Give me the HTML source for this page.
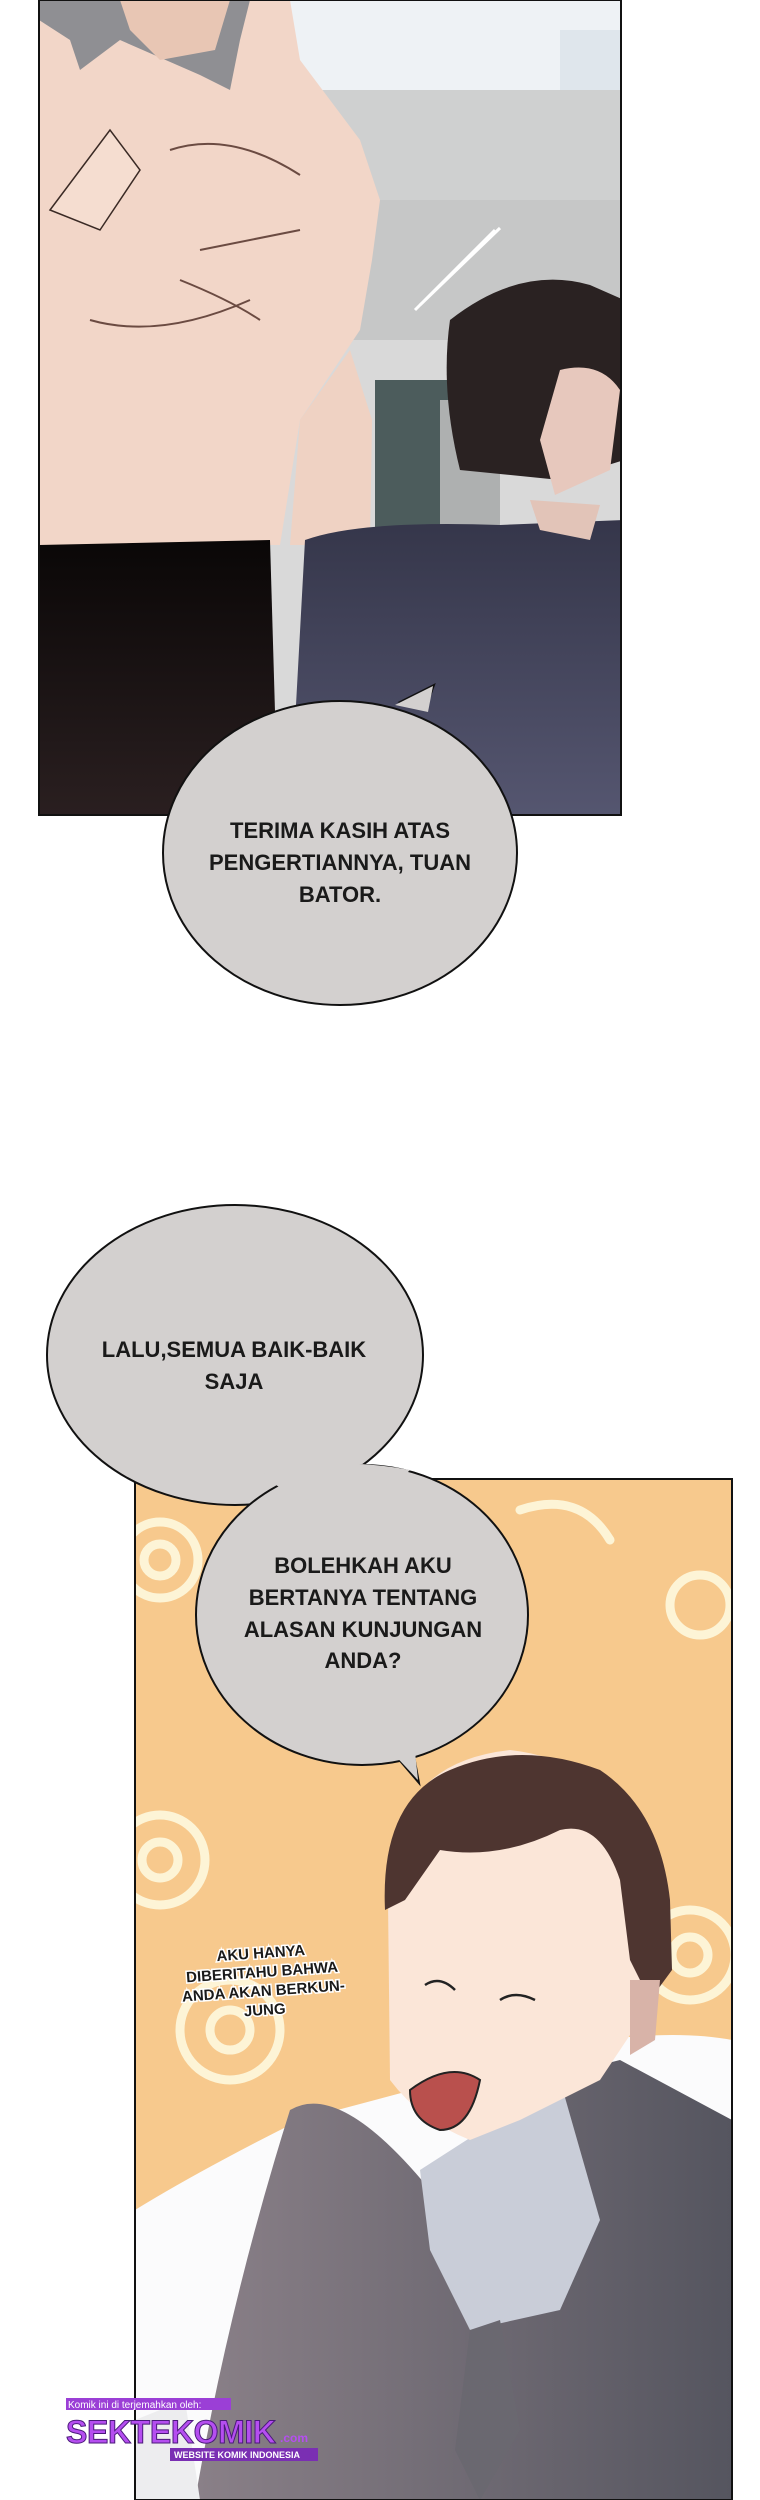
<!DOCTYPE html>
<html><head><meta charset="utf-8"><style>
html,body{margin:0;padding:0;background:#fff;}
svg{display:block;}
text{font-family:"Liberation Sans",sans-serif;font-weight:bold;fill:#1a1a1a;}
</style></head><body>
<svg width="760" height="2500" viewBox="0 0 760 2500" xmlns="http://www.w3.org/2000/svg">
<defs>
<linearGradient id="pants" x1="0" y1="0" x2="0" y2="1"><stop offset="0" stop-color="#0a0707"/><stop offset="1" stop-color="#2a1f20"/></linearGradient>
<linearGradient id="suit1" x1="0" y1="0" x2="0" y2="1"><stop offset="0" stop-color="#35364a"/><stop offset="1" stop-color="#555670"/></linearGradient>
<linearGradient id="suit2" x1="0" y1="0" x2="1" y2="0"><stop offset="0" stop-color="#8a8088"/><stop offset="1" stop-color="#55555f"/></linearGradient>
<clipPath id="p1"><rect x="39" y="0" width="582" height="815"/></clipPath>
<clipPath id="p2"><rect x="135" y="1479" width="597" height="1021"/></clipPath>
</defs>

<!-- PANEL 1 -->
<g clip-path="url(#p1)">
<rect x="39" y="0" width="582" height="815" fill="#d9d9d9"/>
<rect x="290" y="0" width="334" height="90" fill="#eef2f5"/>
<rect x="560" y="30" width="64" height="140" fill="#dfe6ec"/>
<rect x="290" y="90" width="334" height="120" fill="#cfd0d0"/>
<rect x="290" y="200" width="334" height="140" fill="#c6c7c7"/>
<rect x="375" y="380" width="90" height="150" fill="#4c5c5c"/>
<rect x="440" y="400" width="60" height="130" fill="#aeb0b0"/>
<path d="M39 0 L290 0 L300 60 L360 140 L380 200 L372 260 L360 330 L300 420 L280 545 L39 545 Z" fill="#f2d6c8"/>
<path d="M290 545 L300 420 L350 350 L372 420 L370 545 Z" fill="#efd2c3"/>
<path d="M39 0 L250 0 L240 40 L230 90 L200 75 L120 40 L80 70 L70 40 L39 20 Z" fill="#8f8f93"/>
<path d="M120 0 L230 0 L215 50 L160 60 L130 30 Z" fill="#e8c6b4"/>
<path d="M170 150 Q230 130 300 175 M200 250 Q250 240 300 230 M180 280 Q230 300 260 320 M90 320 Q160 340 250 300" stroke="#6b4b42" stroke-width="2" fill="none"/>
<path d="M50 210 L110 130 L140 170 L100 230 Z" fill="#f5ddd0" stroke="#3a2a25" stroke-width="1.5"/>
<path d="M39 545 L270 540 L278 815 L39 815 Z" fill="url(#pants)"/>
<path d="M305 540 Q360 520 500 525 L624 520 L624 815 L290 815 Z" fill="url(#suit1)"/>
<path d="M450 320 Q520 265 590 285 L624 300 L624 460 L560 480 L460 470 Q440 390 450 320 Z" fill="#2a2222"/>
<path d="M560 370 Q600 360 620 390 L610 470 L555 495 L540 440 Z" fill="#e7c8bd"/>
<path d="M530 500 L600 505 L590 540 L540 530 Z" fill="#e2c4b8"/>
<path d="M415 310 L495 230 M420 305 L500 228" stroke="#fff" stroke-width="3"/>
</g>
<rect x="39" y="0" width="582" height="815" fill="none" stroke="#111" stroke-width="2"/>

<!-- Bubble 1 -->
<path d="M400 702 L434 685 L425 710 Z" fill="#d3d0cf" stroke="#111" stroke-width="2"/>
<ellipse cx="340" cy="853" rx="177" ry="152" fill="#d3d0cf" stroke="#111" stroke-width="2"/>
<path d="M395 705 L433 686 L428 712" fill="#d3d0cf"/>
<text x="340" y="838" font-size="22" text-anchor="middle">TERIMA KASIH ATAS</text>
<text x="340" y="870" font-size="22" text-anchor="middle">PENGERTIANNYA, TUAN</text>
<text x="340" y="902" font-size="22" text-anchor="middle">BATOR.</text>

<!-- PANEL 2 -->
<g clip-path="url(#p2)">
<rect x="135" y="1479" width="597" height="1021" fill="#f7c98d"/>
<g fill="none" stroke="#fdf4d6" stroke-width="9" stroke-linecap="round">
<circle cx="160" cy="1560" r="38"/><circle cx="160" cy="1560" r="16"/>
<circle cx="160" cy="1860" r="45"/><circle cx="160" cy="1860" r="18"/>
<circle cx="700" cy="1605" r="30"/>
<circle cx="690" cy="1955" r="45"/><circle cx="690" cy="1955" r="18"/>
<circle cx="230" cy="2030" r="50"/><circle cx="230" cy="2030" r="20"/>
<path d="M250 1720 Q300 1760 340 1740"/><path d="M520 1510 Q580 1490 610 1540"/>
</g>
<path d="M600 2040 Q680 2030 732 2040 L732 2500 L135 2500 L135 2210 Q200 2170 300 2120 Z" fill="#fbfbfc"/>
<path d="M290 2110 Q340 2080 430 2190 L540 2080 L620 2060 L732 2120 L732 2500 L195 2500 Q230 2300 290 2110 Z" fill="url(#suit2)"/>
<path d="M420 2170 L560 2080 L600 2220 L560 2310 L470 2330 L430 2250 Z" fill="#c9cdd8"/>
<path d="M470 2330 L500 2320 L520 2430 L480 2500 L455 2450 Z" fill="#6a6870"/>
<path d="M135 2420 L185 2400 L200 2500 L135 2500 Z" fill="#ededef"/>
<path d="M400 1830 Q420 1760 510 1750 Q600 1760 650 1840 L670 1960 L640 2020 L600 2080 L520 2120 L470 2140 Q420 2120 390 2080 L388 1900 Z" fill="#fbe6d8"/>
<path d="M385 1910 Q380 1800 450 1770 Q520 1740 600 1770 Q660 1810 670 1900 L672 1970 L650 2000 L630 1960 L620 1880 Q600 1820 560 1830 Q500 1860 440 1850 L405 1900 Z" fill="#4e3530"/>
<path d="M630 1980 L660 1980 L655 2040 L630 2055 Z" fill="#d8b3a8"/>
<path d="M410 2090 Q450 2060 480 2080 Q470 2130 440 2130 Q410 2120 410 2090 Z" fill="#b9504d" stroke="#222" stroke-width="2"/>
<path d="M425 1985 Q440 1975 455 1990 M500 2000 Q515 1990 535 2000" stroke="#222" stroke-width="2.5" fill="none"/>
</g>
<rect x="135" y="1479" width="597" height="1021" fill="none" stroke="#111" stroke-width="2"/>

<!-- Bubble 2 -->
<ellipse cx="235" cy="1355" rx="188" ry="150" fill="#d3d0cf" stroke="#111" stroke-width="2"/>
<!-- Bubble 3 -->
<path d="M395 1755 L419 1783 L412 1745 Z" fill="#d3d0cf" stroke="#111" stroke-width="2"/>
<ellipse cx="362" cy="1615" rx="166" ry="150" fill="#d3d0cf" stroke="#111" stroke-width="2"/>
<path d="M390 1750 L418 1780 L414 1742 Z" fill="#d3d0cf"/>
<path d="M260 1475 Q330 1455 410 1470 Q380 1500 300 1500 Z" fill="#d3d0cf"/>
<text x="234" y="1357" font-size="22" text-anchor="middle">LALU,SEMUA BAIK-BAIK</text>
<text x="234" y="1389" font-size="22" text-anchor="middle">SAJA</text>
<text x="363" y="1573" font-size="22" text-anchor="middle">BOLEHKAH AKU</text>
<text x="363" y="1605" font-size="22" text-anchor="middle">BERTANYA TENTANG</text>
<text x="363" y="1637" font-size="22" text-anchor="middle">ALASAN KUNJUNGAN</text>
<text x="363" y="1668" font-size="22" text-anchor="middle">ANDA?</text>

<g transform="rotate(-4 263 1985)" stroke="#fff" stroke-width="3" paint-order="stroke">
<text x="263" y="1958" font-size="15" text-anchor="middle">AKU HANYA</text>
<text x="263" y="1977" font-size="15" text-anchor="middle">DIBERITAHU BAHWA</text>
<text x="263" y="1996" font-size="15" text-anchor="middle">ANDA AKAN BERKUN-</text>
<text x="263" y="2015" font-size="15" text-anchor="middle">JUNG</text>
</g>

<rect x="66" y="2398" width="165" height="12" fill="#9b3fd6"/>
<text x="68" y="2408" font-size="10" style="fill:#fff;font-weight:normal">Komik ini di terjemahkan oleh:</text>
<text x="66" y="2443" font-size="32" textLength="210" style="fill:#b54ef0" stroke="#4a1a7a" stroke-width="1">SEKTEKOMIK</text>
<text x="280" y="2442" font-size="12" style="fill:#b54ef0">.com</text>
<rect x="170" y="2448" width="148" height="13" fill="#7a2fb3"/>
<text x="174" y="2458" font-size="9" style="fill:#fff">WEBSITE KOMIK INDONESIA</text>
</svg>
</body></html>
